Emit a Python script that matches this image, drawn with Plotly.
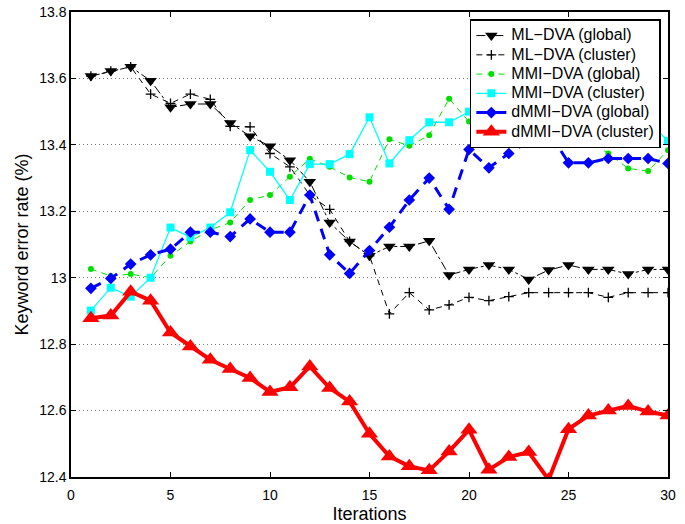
import plotly.graph_objects as go

iterations = list(range(1, 31))

ml_dva_global = [13.607, 13.622, 13.635, 13.593, 13.513, 13.523, 13.523, 13.466, 13.426, 13.396,
                 13.354, 13.289, 13.166, 13.109, 13.066, 13.094, 13.094, 13.111, 13.008, 13.025,
                 13.038, 13.025, 12.995, 13.023, 13.038, 13.025, 13.025, 13.011, 13.025, 13.025]

ml_dva_cluster = [13.607, 13.622, 13.635, 13.553, 13.525, 13.553, 13.537, 13.456, 13.454, 13.374,
                  13.334, 13.249, 13.206, 13.109, 13.066, 12.891, 12.955, 12.903, 12.918, 12.941,
                  12.931, 12.943, 12.955, 12.955, 12.955, 12.955, 12.941, 12.955, 12.955, 12.955]

mmi_dva_global = [13.026, 13.005, 13.011, 13.0, 13.066, 13.109, 13.144, 13.166, 13.234, 13.249,
                  13.304, 13.358, 13.334, 13.302, 13.289, 13.417, 13.397, 13.429, 13.539, 13.47,
                  13.44, 13.41, 13.43, 13.45, 13.44, 13.415, 13.374, 13.329, 13.321, 13.384]

mmi_dva_cluster = [12.901, 12.970, 12.943, 13.0, 13.151, 13.122, 13.151, 13.197, 13.384, 13.319,
                   13.234, 13.342, 13.342, 13.372, 13.483, 13.344, 13.414, 13.468, 13.468, 13.50,
                   13.48, 13.52, 13.50, 13.52, 13.51, 13.50, 13.48, 13.50, 13.47, 13.412]

dmmi_dva_global = [12.968, 12.998, 13.041, 13.069, 13.086, 13.137, 13.137, 13.124, 13.177, 13.137,
                   13.137, 13.249, 13.069, 13.013, 13.082, 13.152, 13.234, 13.300, 13.206, 13.386,
                   13.331, 13.374, 13.41, 13.44, 13.346, 13.346, 13.359, 13.359, 13.359, 13.344]

dmmi_dva_cluster = [12.878, 12.886, 12.958, 12.931, 12.835, 12.793, 12.753, 12.725, 12.698, 12.656,
                    12.670, 12.733, 12.668, 12.627, 12.530, 12.462, 12.432, 12.420, 12.477, 12.542,
                    12.422, 12.460, 12.475, 12.392, 12.544, 12.585, 12.600, 12.614, 12.597, 12.585]

series_names = ["ML\u2212DVA (global)", "ML\u2212DVA (cluster)", "MMI\u2212DVA (global)",
                "MMI\u2212DVA (cluster)", "dMMI\u2212DVA (global)", "dMMI\u2212DVA (cluster)"]

x_ticks = [0, 5, 10, 15, 20, 25, 30]
y_ticks = [12.4, 12.6, 12.8, 13.0, 13.2, 13.4, 13.6, 13.8]
y_tick_labels = ["12.4", "12.6", "12.8", "13", "13.2", "13.4", "13.6", "13.8"]

FONT = "Liberation Sans, Arial, Helvetica, sans-serif"


def legend_label(name):
    # larger text inside a tighter legend row
    return '<span style="font-size:16px">' + name + '</span>'


fig = go.Figure()

fig.add_trace(go.Scatter(
    x=iterations, y=ml_dva_global, name=legend_label(series_names[0]), mode="lines+markers",
    line=dict(color="black", width=1, dash="dashdot"),
    marker=dict(symbol="triangle-down", size=11, color="black")))

fig.add_trace(go.Scatter(
    x=iterations, y=ml_dva_cluster, name=legend_label(series_names[1]), mode="lines+markers",
    line=dict(color="black", width=1, dash="6px,5px"),
    marker=dict(symbol="cross-thin", size=7, color="black", line=dict(color="black", width=1.3))))

fig.add_trace(go.Scatter(
    x=iterations, y=mmi_dva_global, name=legend_label(series_names[2]), mode="lines+markers",
    line=dict(color="#00e000", width=1, dash="6px,5px"),
    marker=dict(symbol="circle", size=6, color="#00e000")))

fig.add_trace(go.Scatter(
    x=iterations, y=mmi_dva_cluster, name=legend_label(series_names[3]), mode="lines+markers",
    line=dict(color="#00ffff", width=1.3),
    marker=dict(symbol="square", size=8, color="#00ffff")))

fig.add_trace(go.Scatter(
    x=iterations, y=dmmi_dva_global, name=legend_label(series_names[4]), mode="lines+markers",
    line=dict(color="#0000ff", width=3, dash="11px,8px"),
    marker=dict(symbol="diamond", size=9, color="#0000ff")))

fig.add_trace(go.Scatter(
    x=iterations, y=dmmi_dva_cluster, name=legend_label(series_names[5]), mode="lines+markers",
    line=dict(color="#ff0000", width=4),
    marker=dict(symbol="triangle-up", size=15, color="#ff0000")))

axis_common = dict(
    showline=True, linecolor="black", linewidth=1.5, mirror="ticks",
    ticks="inside", ticklen=5, tickcolor="black", tickwidth=1,
    tickfont=dict(family=FONT, size=14, color="black"),
    zeroline=False, automargin=False,
)

fig.update_xaxes(
    range=[0, 30], tickvals=x_ticks, showgrid=False, ticklabelstandoff=4,
    title=dict(text="Iterations", font=dict(family=FONT, size=18, color="black"), standoff=6),
    **axis_common)

fig.update_yaxes(
    range=[12.4, 13.8], tickvals=y_ticks, ticktext=y_tick_labels,
    showgrid=True, gridcolor="#777777", griddash="1px,3px", gridwidth=1,
    title=dict(text="Keyword error rate (%)", font=dict(family=FONT, size=18, color="black"), standoff=6),
    **axis_common)

fig.update_layout(
    width=685, height=524,
    margin=dict(l=71, r=17, t=12, b=47),
    plot_bgcolor="white", paper_bgcolor="white",
    font=dict(family=FONT, color="black"),
    legend=dict(
        x=0.988, y=0.984, xanchor="right", yanchor="top",
        bgcolor="white", bordercolor="black", borderwidth=1.5,
        font=dict(family=FONT, size=12.5, color="black"),
        tracegroupgap=0, itemwidth=30,
    ),
    showlegend=True,
)

fig.write_html("out.html", config={"displayModeBar": False},
               post_script="document.body.style.margin='0';")
